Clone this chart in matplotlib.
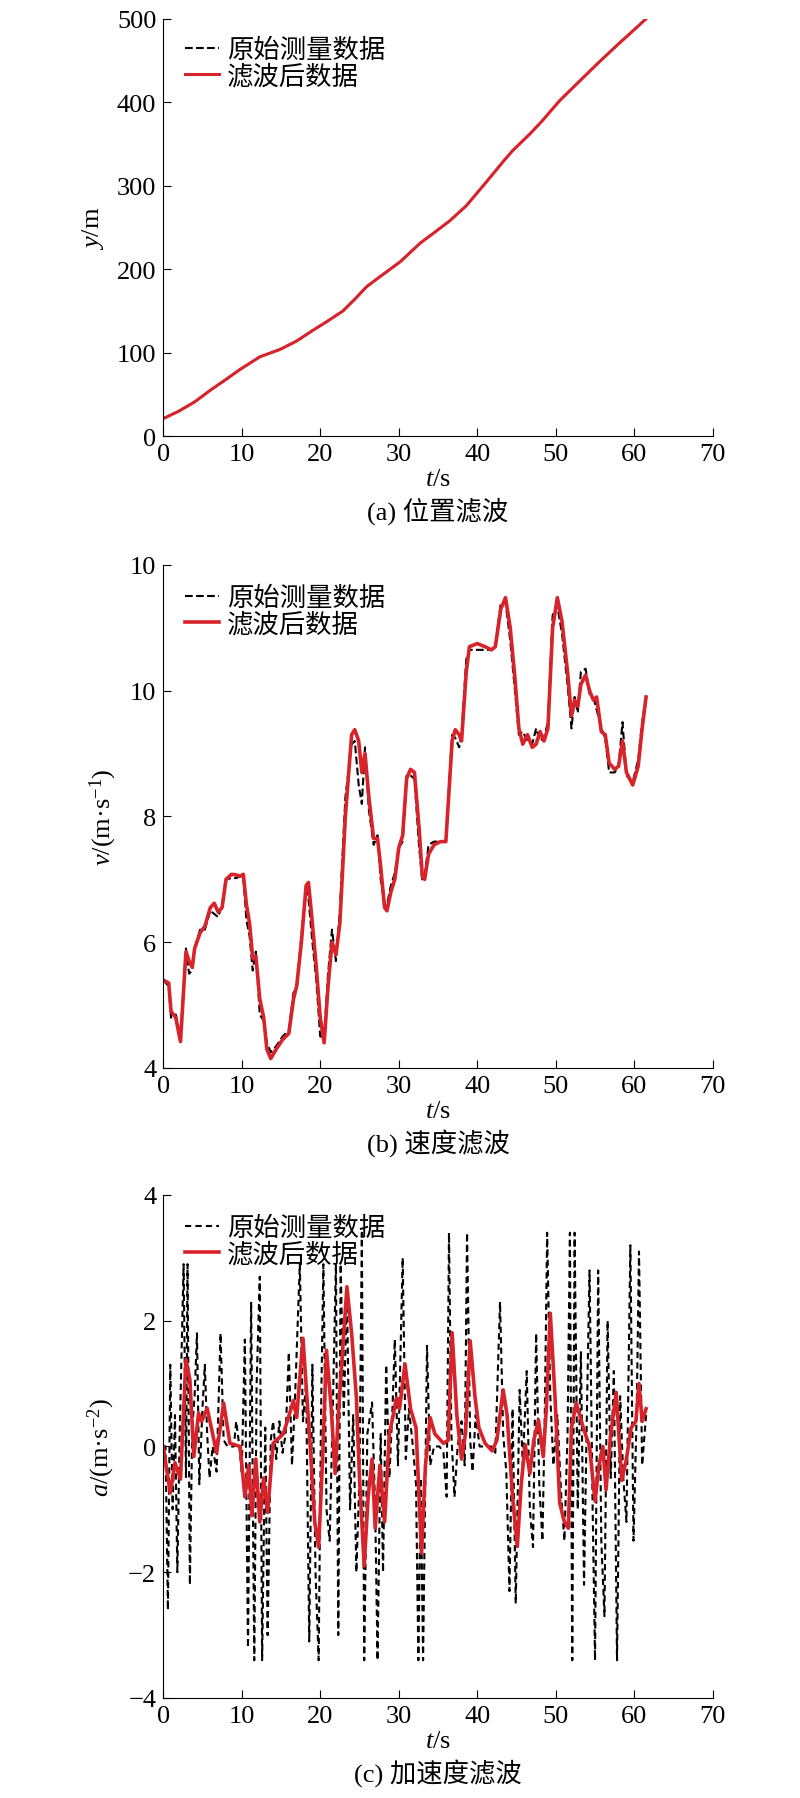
import matplotlib
matplotlib.use("Agg")
import matplotlib.pyplot as plt

plt.rcParams['font.family'] = ['Liberation Serif', 'Noto Sans CJK SC']
plt.rcParams['mathtext.fontset'] = 'custom'
plt.rcParams['mathtext.rm'] = 'Liberation Serif'
plt.rcParams['mathtext.it'] = 'Liberation Serif:italic'
plt.rcParams['axes.unicode_minus'] = True

# position (panel a)
t_pos = [0, 2, 4, 6, 8, 9.8, 12.3, 14.9, 17, 19.1, 20.8, 22.9, 24.5, 25.9, 27.6, 30.2,
         32.7, 34.4, 36.5, 38.6, 41.2, 43.3, 44.5, 46.7, 48.3, 50.5, 53, 55.5, 58, 60, 61.5]
y_raw = [21, 30, 41, 55, 68, 80, 95, 104, 114, 127, 137, 150, 165, 179, 191, 209,
         231, 243, 258, 276, 305, 329, 342, 362, 378, 402, 425, 448, 470, 487, 500]
y_filt = y_raw

# velocity (panel b)
t_vel = [0, 0.7, 1.0, 1.6, 2.2, 2.9, 3.3, 3.7, 4.0, 4.7, 5.3, 6.0, 6.5, 7.0, 7.5, 8.0,
         8.7, 9.3, 9.8, 10.2, 10.6, 11.0, 11.4, 11.8, 12.3, 12.8, 13.2, 13.7, 14.4, 15.2,
         16.0, 16.6, 17.0, 17.6, 18.2, 18.5, 19.0, 19.5, 20.0, 20.5, 21.0, 21.5, 22.0,
         22.5, 23.2, 24.0, 24.4, 24.9, 25.3, 25.7, 26.2, 26.8, 27.3, 27.7, 28.2, 28.5,
         29.0, 29.5, 30.0, 30.5, 31.0, 31.5, 32.0, 32.6, 33.0, 33.3, 33.8, 34.5, 35.3,
         36.0, 36.8, 37.2, 37.7, 38.0, 38.6, 39.0, 40.0, 41.0, 41.8, 42.3, 43.0, 43.6,
         44.2, 44.8, 45.3, 45.8, 46.4, 47.0, 47.5, 48.0, 48.5, 49.0, 49.6, 50.2, 50.8,
         51.5, 52.0, 52.4, 52.8, 53.2, 53.8, 54.3, 54.8, 55.2, 55.8, 56.3, 56.8, 57.5,
         58.0, 58.5, 59.0, 59.8, 60.5, 61.0, 61.5]
v_filt = [5.4, 5.35, 4.9, 4.8, 4.42, 5.85, 5.7, 5.6, 5.9, 6.15, 6.25, 6.55, 6.62, 6.48,
          6.55, 7.0, 7.08, 7.07, 7.05, 7.08, 6.6, 6.3, 5.75, 5.78, 5.1, 4.8, 4.3, 4.15,
          4.3, 4.45, 4.55, 5.1, 5.3, 6.0, 6.9, 6.95, 6.3, 5.6, 4.8, 4.4, 5.3, 6.0, 5.8,
          6.3, 8.0, 9.3, 9.38, 9.2, 8.7, 9.0, 8.3, 7.65, 7.65, 7.2, 6.55, 6.5, 6.8, 7.0,
          7.5, 7.7, 8.6, 8.75, 8.7, 7.8, 7.05, 7.0, 7.4, 7.55, 7.6, 7.6, 9.2, 9.38, 9.3,
          9.2, 10.3, 10.7, 10.75, 10.7, 10.65, 10.7, 11.3, 11.48, 11.0, 10.2, 9.4, 9.15,
          9.3, 9.1, 9.15, 9.35, 9.2, 9.4, 11.0, 11.48, 11.1, 10.3, 9.6, 9.85, 9.75, 10.1,
          10.25, 10.0, 9.85, 9.9, 9.35, 9.3, 8.85, 8.75, 8.8, 9.2, 8.7, 8.5, 8.8, 9.4, 9.9]
v_raw = [5.4, 5.3, 4.8, 4.85, 4.5, 5.9, 5.5, 5.55, 5.9, 6.2, 6.2, 6.5, 6.45, 6.4,
         6.6, 7.0, 7.02, 7.02, 7.05, 7.05, 6.35, 6.1, 5.55, 5.85, 4.85, 4.75, 4.4, 4.25,
         4.35, 4.5, 4.6, 5.2, 5.25, 6.1, 6.85, 6.7, 6.0, 5.4, 4.5, 4.5, 5.5, 6.2, 5.7,
         6.5, 8.3, 9.15, 9.2, 8.5, 8.2, 9.1, 8.1, 7.55, 7.7, 7.0, 6.6, 6.6, 6.9, 7.1,
         7.5, 7.6, 8.65, 8.65, 8.6, 7.5, 7.0, 7.05, 7.55, 7.6, 7.6, 7.6, 9.3, 9.25, 9.1,
         9.3, 10.5, 10.65, 10.65, 10.65, 10.65, 10.7, 11.4, 11.4, 10.8, 10.0, 9.3, 9.35,
         9.2, 9.15, 9.4, 9.2, 9.25, 9.5, 11.2, 11.35, 10.9, 10.1, 9.4, 9.9, 9.65, 10.3,
         10.35, 9.95, 9.9, 9.7, 9.4, 9.25, 8.7, 8.7, 8.8, 9.5, 8.65, 8.55, 8.9, 9.5, 9.9]

# acceleration (panel c)
t_acc_f = [0, 0.9, 1.5, 2.2, 2.9, 3.4, 3.9, 4.5, 4.9, 5.6, 6.8, 7.7, 8.5, 9.8, 10.4,
           10.9, 11.3, 11.8, 12.3, 12.8, 13.3, 14.0, 15.3, 16.6, 17.0, 17.8, 18.7, 19.3,
           19.8, 20.3, 20.8, 21.4, 21.9, 22.3, 23.4, 24.0, 24.6, 25.0, 25.6, 26.1, 26.6,
           27.0, 27.6, 28.2, 28.8, 29.3, 29.7, 30.1, 30.8, 31.5, 32.2, 32.9, 33.4, 34.0,
           34.6, 35.7, 36.3, 36.8, 37.4, 38.0, 38.5, 39.1, 39.7, 40.2, 41.0, 41.9, 42.5,
           43.3, 43.8, 44.5, 45.1, 45.6, 46.1, 46.7, 47.2, 47.8, 48.4, 48.8, 49.3, 49.9,
           50.5, 51.1, 51.6, 52.0, 52.6, 53.5, 54.3, 55.0, 55.5, 56.0, 56.4, 57.0, 57.7,
           58.4, 59.0, 59.6, 60.2, 60.6, 61.0, 61.5]
a_filt = [0, -0.74, -0.26, -0.52, 1.38, 1.06, -0.16, 0.53, 0.4, 0.61, -0.1, 0.69, 0.05,
          0.0, -0.8, -0.3, -1.1, -0.2, -1.2, -0.5, -1.05, 0.05, 0.2, 0.73, 0.46, 1.72,
          0.05, -1.2, -1.6, -0.2, 1.53, 0.6, -0.43, 0.5, 2.54, 1.8, 0.79, -0.5, -1.9,
          -0.8, -0.2, -1.3, -0.3, -1.2, 0.2, 0.5, 0.77, 0.6, 1.31, 0.6, 0.3, -1.7, -0.3,
          0.46, 0.2, 0.05, 0.1, 1.81, 0.5, -0.2, 0.2, 1.68, 0.8, 0.3, 0.05, -0.07, 0.1,
          0.9, 0.5, -0.8, -1.59, -0.6, 0.03, -0.43, 0.1, 0.42, -0.16, 0.6, 2.12, 0.8,
          -0.9, -1.2, -1.3, 0.3, 0.69, 0.3, 0.0, -0.87, -0.3, 0.0, -0.69, 0.2, 0.86,
          -0.54, -0.2, 0.3, 0.4, 1.0, 0.4, 0.6]
t_acc_r = [0, 0.3, 0.6, 0.9, 1.2, 1.5, 1.8, 2.1, 2.6, 2.9, 3.1, 3.4, 3.7, 4.0, 4.3, 4.6,
           5.0, 5.3, 5.6, 5.9, 6.3, 6.8, 7.3, 7.7, 8.2, 9.0, 9.3, 9.7, 10.0, 10.4, 10.8,
           11.2, 11.6, 11.9, 12.3, 12.6, 13.0, 13.3, 13.7, 14.0, 14.4, 14.8, 15.2, 15.6,
           16.0, 16.4, 16.8, 17.4, 17.8, 18.2, 18.6, 19.0, 19.4, 19.8, 20.1, 20.4, 20.8,
           21.2, 21.6, 22.0, 22.3, 22.6, 23.0, 23.4, 23.8, 24.2, 24.6, 25.0, 25.3, 25.6,
           26.0, 26.6, 27.0, 27.3, 27.7, 28.0, 28.4, 28.8, 29.2, 29.5, 29.9, 30.5, 30.9,
           31.3, 31.8, 32.2, 32.5, 32.8, 33.1, 33.6, 34.0, 34.5, 35.2, 35.7, 36.1, 36.4,
           36.7, 37.1, 37.5, 38.0, 38.4, 38.7, 39.1, 39.4, 39.8, 40.3, 41.0, 41.8, 42.3,
           42.9, 43.3, 43.7, 44.1, 44.5, 44.9, 45.4, 45.8, 46.3, 46.7, 47.1, 47.5, 47.9,
           48.3, 48.6, 48.9, 49.3, 49.7, 50.2, 50.7, 51.1, 51.5, 51.8, 52.1, 52.4, 52.8,
           53.2, 53.6, 54.0, 54.3, 54.7, 55.0, 55.4, 55.8, 56.2, 56.6, 57.0, 57.4, 57.8,
           58.2, 58.6, 59.0, 59.5, 59.9, 60.3, 60.6, 61.0, 61.5]
a_raw = [0, 0, -2.6, 1.3, -1.0, 0.5, -2.0, 0.2, 2.9, -0.5, 2.9, -2.2, 0.3, 0.8, 1.8, -0.6,
         0.6, 1.3, 0.2, -0.5, 0.0, -0.4, 1.8, 0.1, 0, 0, 0.4, 0.0, -0.4, 1.7, -3.2,
         2.3, -3.4, 1.0, 2.7, -3.4, 0.3, -3.0, 0.1, 0.4, -0.2, 0.4, -0.1, 0.2,
         1.5, -0.3, 0.8, 2.9, 0.4, 1.0, -3.1, 1.3, -2.0, -3.4, 0.5, 2.9, -1.0,
         -1.5, 0.6, 2.9, -3.0, 2.9, 0.5, 2.5, -1.0, 0.5, -2.0, -0.5, 3.4, -3.4,
         0.2, 0.7, -1.0, -3.4, 0.2, -2.0, 1.3, -0.5, 0.6, 1.7, -0.3, 3.0, -0.2,
         0.6, 0.0, -0.6, -3.4, -0.5, -3.4, 1.6, -0.3, 0.0, 0.0, -0.1, -0.8, 3.4,
         0.2, -0.8, 0.0, 0.4, -0.3, 3.4, 0.1, -0.4, 0.5, 0.0, 0.0, 0.0, -0.1,
         2.3, 0.2, -0.4, -2.3, 0.6, -2.5, 0.9, -0.3, 1.2, -1.0, -1.6, 1.8, -0.6,
         -1.5, 0.5, 3.4, 0.8, -0.3, 0.5, -0.8, -1.5, 0.2, 3.4, -3.4, 3.4, -1.0,
         1.5, -2.2, 0.8, 2.8, -1.0, -3.4, 2.8, -1.5, -2.7, 2.0, -0.5, 1.2, -3.4,
         0.8, -0.5, -1.2, 3.2, -1.5, 0.5, 3.1, -0.3, 0.5]

labels = ['原始测量数据', '滤波后数据']
captions = ['(a) 位置滤波', '(b) 速度滤波', '(c) 加速度滤波']
red = '#d8232a'

fig = plt.figure(figsize=(8, 17.99), dpi=100)
ax1 = fig.add_axes([0.204, 0.757, 0.687, 0.232])
ax2 = fig.add_axes([0.204, 0.4058, 0.687, 0.2796])
ax3 = fig.add_axes([0.204, 0.0556, 0.687, 0.2796])

ax1.plot(t_pos, y_raw, 'k--', lw=1.5, label=labels[0])
ax1.plot(t_pos, y_filt, color=red, lw=2.2, label=labels[1])
ax2.plot(t_vel, v_raw, 'k--', lw=1.5, label=labels[0])
ax2.plot(t_vel, v_filt, color=red, lw=2.6, label=labels[1])
ax3.plot(t_acc_r, a_raw, 'k--', lw=1.5, dashes=(3, 2), label=labels[0])
ax3.plot(t_acc_f, a_filt, color=red, lw=2.6, label=labels[1])

ax1.set_ylim(0, 500)
ax1.set_yticks([0, 100, 200, 300, 400, 500])
ax2.set_ylim(4, 12)
ax2.set_yticks([4, 6, 8, 10, 12])
ax2.set_yticklabels(['4', '6', '8', '10', '10'])
ax3.set_ylim(-4, 4)
ax3.set_yticks([-4, -2, 0, 2, 4])

ax1.set_ylabel('$y$/m', fontsize=19, labelpad=8)
ax2.set_ylabel('$v$/(m·s$^{-1}$)', fontsize=19, labelpad=8)
ax3.set_ylabel('$a$/(m·s$^{-2}$)', fontsize=19, labelpad=8)

for ax, cap in zip([ax1, ax2, ax3], captions):
    ax.set_xlim(0, 70)
    ax.set_xticks(range(0, 71, 10))
    ax.spines['top'].set_visible(False)
    ax.spines['right'].set_visible(False)
    ax.tick_params(direction='in', length=6, labelsize=19, pad=5)
    ax.set_xlabel('$t$/s\n' + cap, fontsize=19, linespacing=1.3, labelpad=2)
    ax.legend(loc='upper left', bbox_to_anchor=(0.02, 0.98), frameon=False, fontsize=19,
              handlelength=1.3, handletextpad=0.3, labelspacing=0.05, borderaxespad=0)

fig.savefig('out.png', dpi=100)
